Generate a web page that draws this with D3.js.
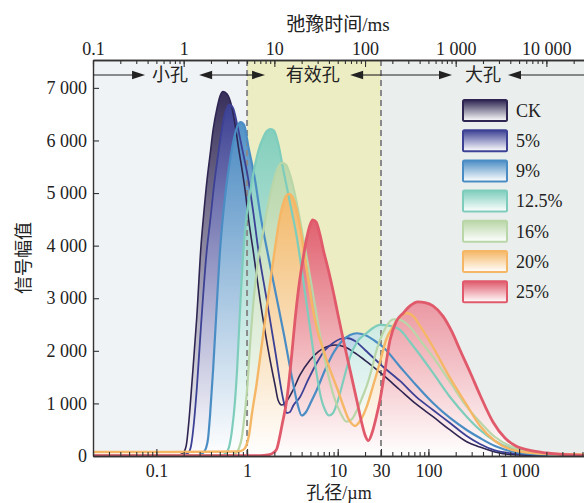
<!DOCTYPE html>
<html>
<head>
<meta charset="utf-8">
<script src="https://cdn.jsdelivr.net/npm/d3@7"></script>
<style>
  html, body { margin: 0; padding: 0; background: #ffffff; }
  svg { display: block; }
</style>
</head>
<body>
<svg id="chart" width="584" height="503"></svg>
<script>
// ---- Data: NMR T2 pore-size distribution, [pore diameter (µm), signal amplitude] ----
const ckData = [[0.02,10],[0.0852,13],[0.174,19],[0.197,57],[0.213,190],[0.229,685],[0.248,1446],[0.279,2644],[0.311,4013],[0.332,4584],[0.362,5250],[0.391,5725],[0.422,6200],[0.467,6619],[0.504,6847],[0.544,6930],[0.602,6885],[0.678,6644],[0.738,6296],[0.802,5883],[0.950,5059],[1.052,4432],[1.165,3918],[1.391,2967],[1.793,1826],[2.035,1350],[2.197,1065],[2.413,970],[2.692,1027],[3.215,1255],[3.84,1541],[4.95,1826],[7.56,2079],[9.34,2111],[12.04,2073],[15.51,1959],[20.88,1794],[31.58,1541],[48.64,1255],[73.0,989],[112.4,748],[173.1,495],[264.5,272],[370.7,171],[542.6,76],[793.6,29],[1700,10],[5200,4]];
const p5Data = [[0.02,10],[0.0852,13],[0.197,19],[0.224,57],[0.241,190],[0.260,647],[0.281,1350],[0.311,2492],[0.360,3918],[0.391,4451],[0.433,5154],[0.479,5725],[0.530,6239],[0.587,6581],[0.638,6680],[0.701,6619],[0.776,6315],[0.874,5883],[1.034,5250],[1.174,4622],[1.332,3918],[1.649,2967],[2.035,2016],[2.513,1065],[2.74,818],[2.98,837],[3.215,951],[3.84,1122],[4.705,1446],[5.868,1769],[7.244,2016],[8.876,2149],[10.6,2225],[12.57,2244],[15.51,2187],[20.0,2016],[31.58,1698],[48.64,1427],[73.0,1128],[112.4,875],[173.1,628],[264.5,380],[370.7,228],[542.6,105],[856,48],[1700,19],[5200,4]];
const p9Data = [[0.02,10],[0.0852,13],[0.288,19],[0.327,57],[0.353,152],[0.372,342],[0.391,780],[0.422,1636],[0.455,2625],[0.504,3918],[0.544,4584],[0.587,5097],[0.650,5630],[0.719,6048],[0.786,6277],[0.852,6347],[0.927,6296],[1.034,5883],[1.225,5250],[1.391,4622],[1.704,3823],[2.088,3062],[2.558,2301],[3.135,1484],[3.559,1027],[4.01,770],[4.472,837],[5.077,1027],[5.868,1255],[7.244,1636],[8.944,1959],[11.15,2187],[13.67,2301],[16.2,2334],[20.0,2301],[25.78,2187],[31.58,2073],[48.64,1698],[73.0,1350],[112.4,1008],[173.1,723],[264.5,495],[370.7,342],[542.6,190],[793.6,95],[1319,38],[5200,4]];
const p125Data = [[0.02,10],[0.0852,13],[0.530,19],[0.587,57],[0.633,171],[0.683,495],[0.738,1065],[0.776,1636],[0.816,2397],[0.859,3157],[0.904,3823],[0.975,4489],[1.079,5021],[1.195,5440],[1.322,5782],[1.501,6048],[1.662,6182],[1.825,6214],[1.985,6182],[2.197,5953],[2.513,5440],[2.98,4812],[3.532,4165],[4.01,3538],[4.472,2967],[5.077,2301],[5.764,1636],[6.545,1103],[7.244,875],[8.021,770],[8.876,818],[10.08,1065],[11.74,1484],[13.67,1883],[16.32,2168],[20.88,2339],[24.5,2435],[29.27,2492],[37.73,2473],[48.64,2397],[62.68,2168],[80.8,1921],[112.4,1579],[173.1,1122],[264.5,748],[370.7,495],[542.6,285],[793.6,152],[1319,67],[2825,19],[5200,10]];
const p16Data = [[0.02,10],[0.0852,13],[0.683,19],[0.757,57],[0.816,152],[0.874,342],[0.927,685],[1.0,1255],[1.079,2111],[1.195,3062],[1.322,3728],[1.501,4260],[1.704,4774],[1.935,5192],[2.142,5440],[2.413,5573],[2.692,5535],[2.98,5345],[3.532,4812],[4.144,4165],[4.705,3633],[5.479,2967],[6.381,2301],[7.622,1636],[9.104,1122],[10.6,837],[12.57,652],[14.38,704],[16.32,875],[18.53,1103],[21.04,1350],[23.89,1674],[26.45,1978],[29.27,2206],[34.07,2454],[41.02,2600],[48.64,2587],[62.68,2454],[80.8,2206],[112.4,1883],[173.1,1407],[264.5,938],[370.7,647],[542.6,361],[793.6,190],[1319,76],[2825,19],[5200,10]];
const p20Data = [[0.02,76],[0.0852,76],[0.796,86],[0.904,114],[0.975,190],[1.052,399],[1.135,818],[1.279,1388],[1.391,1864],[1.512,2339],[1.662,2872],[1.825,3386],[2.035,3956],[2.253,4451],[2.494,4793],[2.692,4945],[2.927,4983],[3.215,4907],[3.532,4679],[4.01,4165],[4.552,3538],[5.342,2777],[6.065,2339],[6.94,2016],[8.226,1636],[9.824,1293],[11.44,970],[12.99,723],[14.38,609],[15.51,571],[17.62,666],[20.88,938],[24.5,1331],[29.27,1788],[34.07,2206],[41.02,2473],[48.64,2644],[57.66,2720],[67.64,2663],[80.8,2473],[112.4,2073],[173.1,1484],[264.5,970],[370.7,571],[542.6,285],[856,114],[1700,48],[5200,29]];
const p25Data = [[0.02,5],[0.0852,5],[1.391,5],[1.704,19],[1.935,57],[2.126,133],[2.253,304],[2.432,590],[2.74,1065],[3.056,1788],[3.382,2587],[3.745,3252],[4.176,3785],[4.552,4147],[4.95,4394],[5.302,4489],[5.764,4451],[6.381,4203],[6.94,3918],[7.879,3538],[8.944,3119],[10.08,2682],[11.53,2206],[13.67,1636],[16.2,1065],[18.53,609],[20.0,399],[21.75,291],[23.89,437],[26.45,723],[29.27,1065],[33.22,1636],[37.73,2206],[43.94,2549],[52.88,2720],[62.68,2853],[76.79,2929],[91.73,2916],[112.4,2853],[146.0,2650],[182.1,2358],[223.1,2016],[287.6,1598],[370.7,1160],[515.5,647],[699,342],[901,200],[1319,105],[2015,57],[5200,10]];

const seriesNames  = ["CK", "5%", "9%", "12.5%", "16%", "20%", "25%"];
const seriesData   = [ckData, p5Data, p9Data, p125Data, p16Data, p20Data, p25Data];
const seriesColors = ["#2e2552", "#3c4195", "#4a8dc4", "#7ecdbc", "#b9d6a8", "#f5b766", "#e05a6b"];
const lineWidths   = [1.6, 1.8, 2.2, 2.2, 2.2, 2.4, 2.8];

// Pore classes along the diameter axis
const regionNames  = ["小孔", "有效孔", "大孔"];
const regionBounds = [0.02, 1, 30, 5200];
const regionFills  = ["#eff3f5", "#ededc3", "#eaeeec"];
const regionLabelAt = [0.141, 5.3, 400];
const regionArrowTips = [[0.075, 0.296], [1.58, 13.7], [182, 755]];

// Tick values / labels
const bottomTicks = [0.1, 1, 10, 30, 100, 1000];
const topTicks = [0.1, 1, 10, 100, 1000, 10000];
const yTicks = [0, 1000, 2000, 3000, 4000, 5000, 6000, 7000];

// ---- Layout ----
const FONT = '"Liberation Serif", "Noto Sans CJK SC", serif';
const CJK = '"Noto Sans CJK SC", "Liberation Serif", sans-serif';
const P = { left: 93, right: 584, top: 60, bottom: 456 };

const svg = d3.select("#chart");
const x = d3.scaleLog().domain([0.02, 5200]).range([P.left, P.right]);
const xTop = d3.scaleLog().domain([0.1, 26000]).range([P.left, P.right]);
const y = d3.scaleLinear().domain([0, 7530]).range([P.bottom, P.top]);

const fmt = v => v >= 1000 ? d3.format(",")(v).replace(/,/g, " ") : String(v);

const defs = svg.append("defs");
defs.append("clipPath").attr("id", "plotClip")
  .append("rect").attr("x", P.left).attr("y", P.top)
  .attr("width", P.right - P.left).attr("height", P.bottom - P.top);

seriesColors.forEach((c, i) => {
  const g = defs.append("linearGradient").attr("id", "grad" + i)
    .attr("x1", 0).attr("y1", 0).attr("x2", 0).attr("y2", 1);
  g.append("stop").attr("offset", "0%").attr("stop-color", c);
  g.append("stop").attr("offset", "100%").attr("stop-color", "#ffffff");
});

// ---- Background bands for the pore classes ----
const bands = svg.append("g");
regionFills.forEach((f, i) => {
  bands.append("rect")
    .attr("x", x(regionBounds[i])).attr("y", P.top)
    .attr("width", x(regionBounds[i + 1]) - x(regionBounds[i]))
    .attr("height", P.bottom - P.top)
    .attr("fill", f);
});

// ---- Filled distributions ----
const plot = svg.append("g").attr("clip-path", "url(#plotClip)");
const area = d3.area().x(d => x(d[0])).y0(y(0)).y1(d => y(d[1])).curve(d3.curveMonotoneX);
const line = d3.line().x(d => x(d[0])).y(d => y(d[1])).curve(d3.curveMonotoneX);

seriesData.forEach((data, i) => {
  plot.append("path").attr("d", area(data))
    .attr("fill", `url(#grad${i})`).attr("fill-opacity", 0.95);
});

// Class boundaries
[regionBounds[1], regionBounds[2]].forEach(b => {
  plot.append("line")
    .attr("x1", x(b)).attr("x2", x(b)).attr("y1", P.top).attr("y2", P.bottom)
    .attr("stroke", "#8a8a8a").attr("stroke-width", 2).attr("stroke-dasharray", "6,4");
});

// Outlines
seriesData.forEach((data, i) => {
  plot.append("path").attr("d", line(data))
    .attr("fill", "none").attr("stroke", seriesColors[i])
    .attr("stroke-width", lineWidths[i]).attr("stroke-linejoin", "round");
});

// ---- Axes ----
function minorTicks(lo, hi) {
  const out = [];
  for (let e = -3; e <= 5; e++) for (let k = 1; k <= 9; k++) {
    const v = k * Math.pow(10, e);
    if (v >= lo * 0.999 && v <= hi * 1.001) out.push(v);
  }
  return out;
}
function styleAxis(g) {
  g.attr("font-family", FONT).attr("font-size", 18);
  g.selectAll(".domain").attr("stroke", "#333").attr("stroke-width", 1.4);
  g.selectAll(".tick line").attr("stroke", "#333").attr("stroke-width", 1.1);
  g.selectAll(".tick text").attr("fill", "#222");
}

// bottom: minor + major
svg.append("g").attr("transform", `translate(0,${P.bottom})`)
  .call(d3.axisBottom(x).tickValues(minorTicks(0.02, 5200)).tickSizeInner(-4).tickSizeOuter(0).tickFormat(""))
  .call(styleAxis);
svg.append("g").attr("transform", `translate(0,${P.bottom})`)
  .call(d3.axisBottom(x).tickValues(bottomTicks).tickSizeInner(-7).tickSizeOuter(0).tickPadding(8).tickFormat(fmt))
  .call(styleAxis);

// top: minor + major
svg.append("g").attr("transform", `translate(0,${P.top})`)
  .call(d3.axisTop(xTop).tickValues(minorTicks(0.1, 26000)).tickSizeInner(-4).tickSizeOuter(0).tickFormat(""))
  .call(styleAxis);
svg.append("g").attr("transform", `translate(0,${P.top})`)
  .call(d3.axisTop(xTop).tickValues(topTicks).tickSizeInner(-7).tickSizeOuter(0).tickPadding(5).tickFormat(fmt))
  .call(styleAxis);

// left
svg.append("g").attr("transform", `translate(${P.left},0)`)
  .call(d3.axisLeft(y).tickValues(yTicks).tickSizeInner(-6).tickSizeOuter(0).tickPadding(6).tickFormat(fmt))
  .call(styleAxis);

// ---- Axis titles ----
svg.append("text").attr("x", 338).attr("y", 31).attr("text-anchor", "middle")
  .attr("font-family", FONT).attr("font-size", 19).attr("fill", "#222").text("弛豫时间/ms");
svg.append("text").attr("x", 339).attr("y", 499).attr("text-anchor", "middle")
  .attr("font-family", FONT).attr("font-size", 18).attr("fill", "#222").text("孔径/µm");
svg.append("text").attr("transform", "translate(30,258) rotate(-90)").attr("text-anchor", "middle")
  .attr("font-family", FONT).attr("font-size", 18).attr("fill", "#222").text("信号幅值");

// ---- Pore-class annotations with arrows ----
const ay = 75;
const ann = svg.append("g");
function arrow(fromX, tipX) {
  const dir = tipX > fromX ? 1 : -1;
  ann.append("line").attr("x1", fromX).attr("x2", tipX - dir * 10).attr("y1", ay).attr("y2", ay)
    .attr("stroke", "#222").attr("stroke-width", 1.1);
  ann.append("path")
    .attr("d", `M${tipX},${ay} L${tipX - dir * 13},${ay - 4.2} L${tipX - dir * 13},${ay + 4.2} Z`)
    .attr("fill", "#222");
}
regionNames.forEach((name, i) => {
  const lo = x(regionBounds[i]), hi = x(regionBounds[i + 1]);
  arrow(lo, x(regionArrowTips[i][0]));
  arrow(hi, x(regionArrowTips[i][1]));
  ann.append("text").attr("x", x(regionLabelAt[i])).attr("y", ay)
    .attr("dy", "0.35em").attr("text-anchor", "middle")
    .attr("font-family", CJK).attr("font-size", 18).attr("fill", "#222").text(name);
});

// ---- Legend ----
const lg = svg.append("g").attr("transform", "translate(462,99)");
seriesNames.forEach((name, i) => {
  const row = lg.append("g").attr("transform", `translate(0,${i * 30.2})`);
  row.append("rect").attr("x", 1).attr("y", 1).attr("width", 44).attr("height", 21).attr("rx", 1.5)
    .attr("fill", `url(#grad${i})`).attr("stroke", seriesColors[i]).attr("stroke-width", 2);
  row.append("text").attr("x", 54).attr("y", 11.5).attr("dy", "0.35em")
    .attr("font-family", FONT).attr("font-size", 18).attr("fill", "#222").text(name);
});
</script>
</body>
</html>
